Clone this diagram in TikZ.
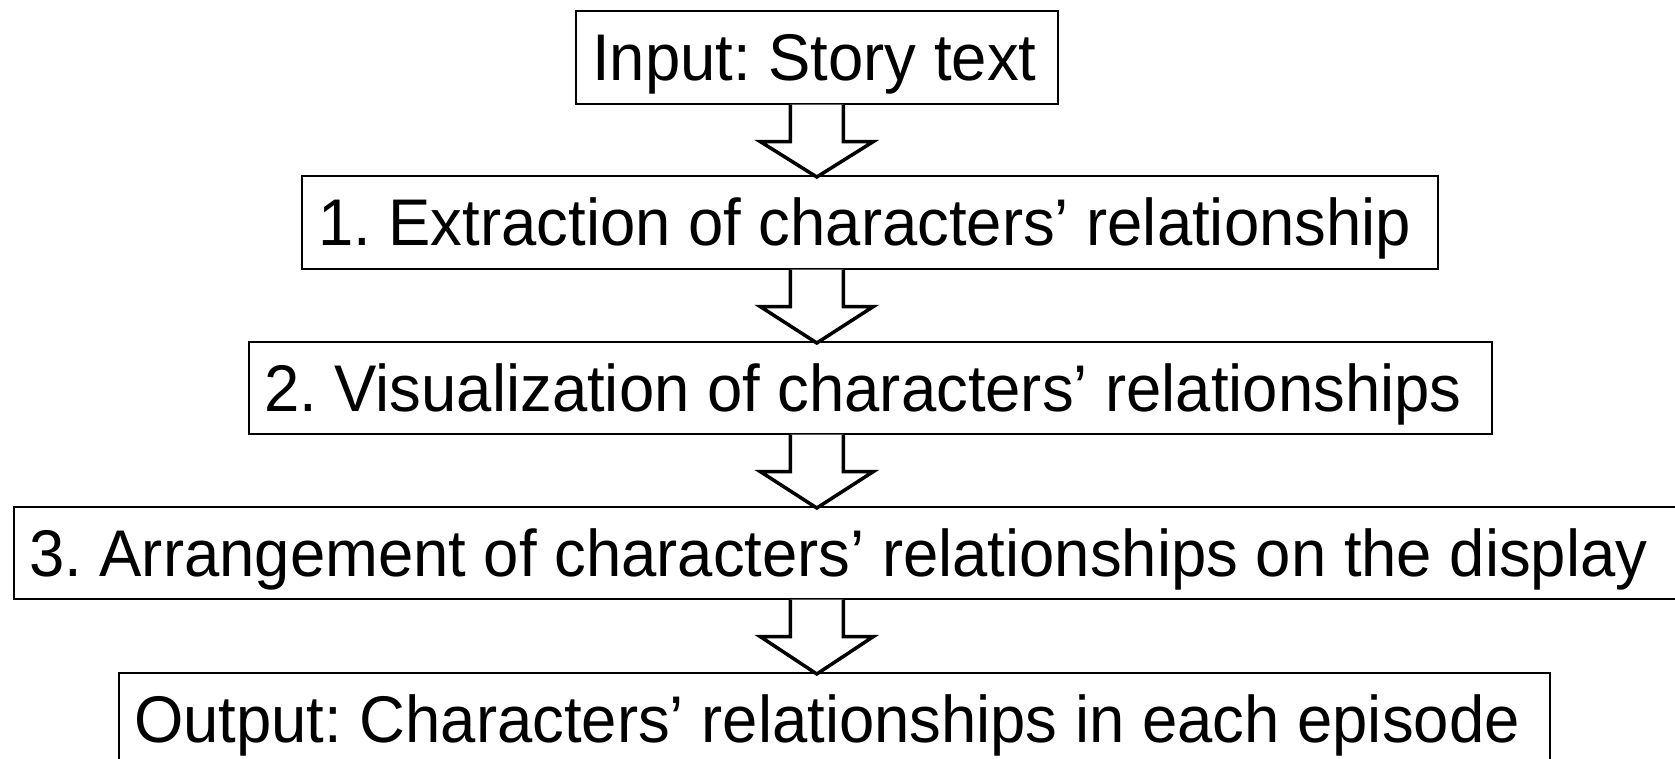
\documentclass[tikz,border=0pt]{standalone}
\usepackage{fontspec}
\setmainfont[FakeStretch=0.961]{Liberation Sans}
\usetikzlibrary{calc}
\frenchspacing
\tikzset{
  boxnode/.style={draw=black, line width=1.6pt, inner sep=0pt, anchor=north west},
  lbl/.style={anchor=base west, inner sep=0pt, font=\fontsize{66}{80}\selectfont},
  blockarrow/.style={draw=black, line width=3.5pt, fill=white, line join=miter},
}
\begin{document}
\begin{tikzpicture}[x=1pt,y=-1pt]
\useasboundingbox (0,0) rectangle (1675,758);
\clip (0,0) rectangle (1675,758);
% boxes
\node[boxnode, minimum width=482pt, minimum height=93pt] (b0) at (575,10) {};
\node[boxnode, minimum width=1136pt, minimum height=93pt] (b1) at (301,175) {};
\node[boxnode, minimum width=1243pt, minimum height=92pt] (b2) at (248,341) {};
\node[boxnode, minimum width=1690pt, minimum height=92pt] (b3) at (13,506) {};
\node[boxnode, minimum width=1431pt, minimum height=93pt] (b4) at (118,672) {};
% texts
\node[lbl] (t0) at ($(b0.north west)+(17,70)$) {Input: Story text};
\node[lbl] (t1) at ($(b1.north west)+(17,70)$) {1. Extraction of characters’ relationship};
\node[lbl] (t2) at ($(b2.north west)+(16,70)$) {2. Visualization of characters’ relationships};
\node[lbl] (t3) at ($(b3.north west)+(16,70)$) {3. Arrangement of characters’ relationships on the display};
\node[lbl] (t4) at ($(b4.north west)+(16,70)$) {Output: Characters’ relationships in each episode};
% block arrows
\foreach \a/\b in {b0/b1, b1/b2, b2/b3, b3/b4}{
  \draw[blockarrow]
    ($(b0.south |- \a.south)+(-26.5,0)$) -- ++(0,37) -- ++(-30,0)
    -- ($(b0.south |- \b.north)+(0,2)$)
    -- ($(b0.south |- \a.south)+(56.5,37)$) -- ++(-30,0) -- ++(0,-37);
}
\end{tikzpicture}
\end{document}
